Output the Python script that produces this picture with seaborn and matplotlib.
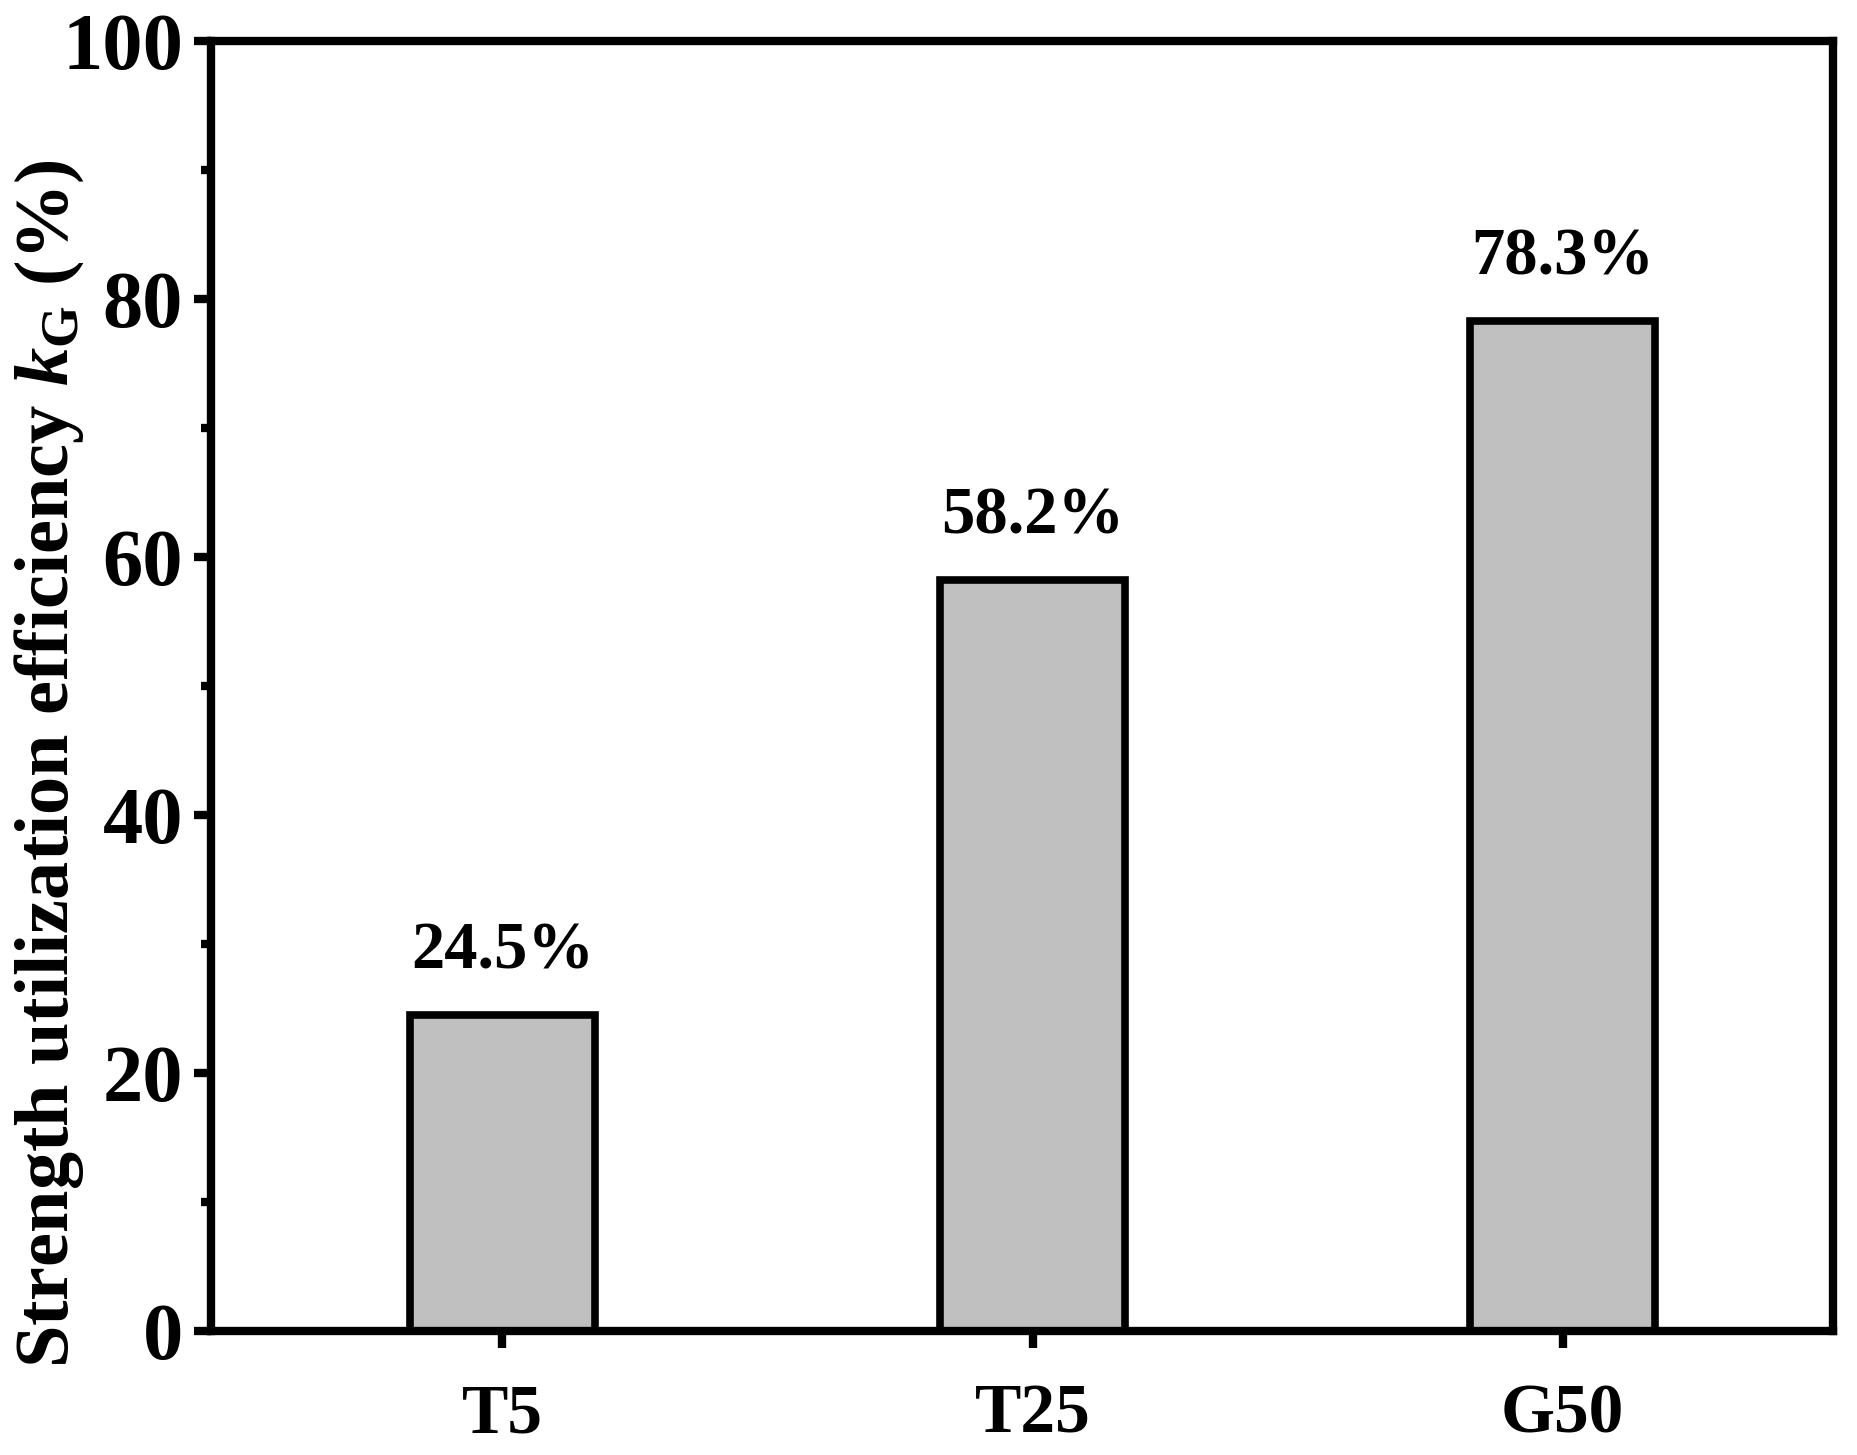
import matplotlib
matplotlib.use("Agg")
import matplotlib.pyplot as plt
import seaborn as sns
import pandas as pd
from matplotlib.ticker import MultipleLocator

# values
groups = ["T5", "T25", "G50"]
k_g = [24.5, 58.2, 78.3]
bar_text = ["24.5%", "58.2%", "78.3%"]

sns.set_theme(style="ticks")
plt.rcParams['font.family'] = ['Liberation Serif', 'DejaVu Serif']
plt.rcParams['font.weight'] = 'bold'
plt.rcParams['text.color'] = 'black'
plt.rcParams['axes.labelcolor'] = 'black'
plt.rcParams['axes.edgecolor'] = 'black'
plt.rcParams['xtick.color'] = 'black'
plt.rcParams['ytick.color'] = 'black'
plt.rcParams['mathtext.fontset'] = 'custom'
plt.rcParams['mathtext.rm'] = 'Liberation Serif:bold'
plt.rcParams['mathtext.it'] = 'Liberation Serif:bold:italic'
plt.rcParams['mathtext.bf'] = 'Liberation Serif:bold'

df = pd.DataFrame({"group": groups, "k": k_g})

fig = plt.figure(figsize=(18.57, 14.55), dpi=100)
ax = fig.add_axes([0.1136, 0.0852, 0.8734, 0.8866])

sns.barplot(data=df, x="group", y="k", color="#c0c0c0", saturation=1,
            edgecolor="black", linewidth=5.5, width=0.35, ax=ax)

for i, (v, t) in enumerate(zip(k_g, bar_text)):
    ax.text(i, v + 4.9, t, ha="center", va="center", fontsize=48,
            fontweight="bold", color="black")

ax.set_xlim(-0.55, 2.51)
ax.set_ylim(0, 100)
ax.yaxis.set_major_locator(MultipleLocator(20))
ax.yaxis.set_minor_locator(MultipleLocator(10))

for s in ax.spines.values():
    s.set_linewidth(6)
    s.set_color("black")
    s.set_visible(True)

ax.tick_params(axis="both", which="major", length=12, width=6, direction="out",
               pad=8)
ax.tick_params(axis="y", which="minor", length=7, width=6, direction="out")
ax.tick_params(axis="y", labelsize=58)
ax.tick_params(axis="x", labelsize=50, pad=26)
for lab in ax.get_xticklabels() + ax.get_yticklabels():
    lab.set_fontweight("bold")

ax.set_xlabel("")
ax.set_ylabel(r"Strength utilization efficiency $\it{k}_{\mathrm{G}}$ (%)",
              fontsize=55, fontweight="bold")
ax.yaxis.set_label_coords(-0.077, 0.44)

fig.savefig("out.png", dpi=100)
